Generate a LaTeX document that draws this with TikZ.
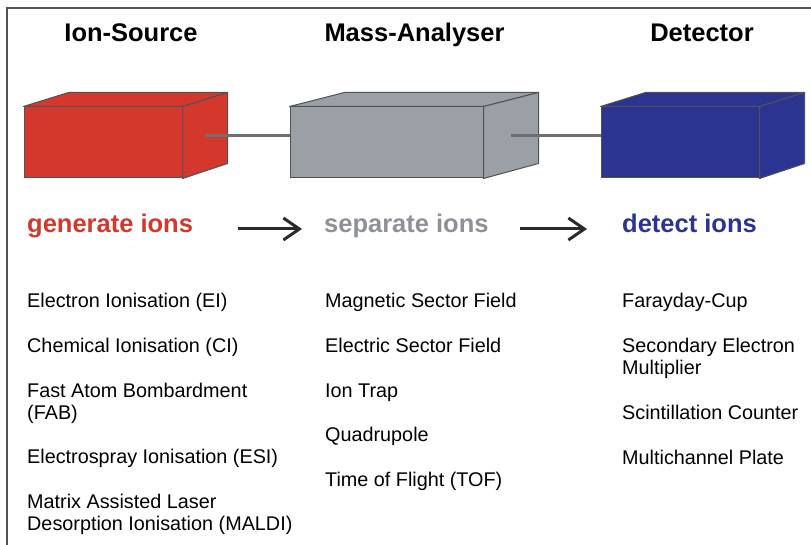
\documentclass[tikz,border=0pt]{standalone}
\usepackage{fontspec}
\setmainfont{Liberation Sans}
\usetikzlibrary{arrows.meta, positioning, calc}
\definecolor{srcred}{HTML}{D4372C}
\definecolor{anagray}{HTML}{9AA0A6}
\definecolor{detblue}{HTML}{2B3491}
\definecolor{sepgray}{HTML}{8E9297}
\definecolor{edgegray}{HTML}{505254}
\definecolor{rodgray}{HTML}{6D6F71}
\definecolor{arrowblack}{HTML}{2A2B28}
\tikzstyle{front} = [rectangle, draw=edgegray, line width=1pt, minimum height=71pt, inner sep=0pt]
\tikzstyle{face} = [draw=edgegray, line width=1pt, line join=round]
\tikzstyle{rod} = [draw=rodgray, line width=3.5pt]
\tikzstyle{title} = [font=\fontsize{25.5}{30}\selectfont\bfseries, inner sep=0pt, anchor=base]
\tikzstyle{task} = [font=\fontsize{25.5}{30}\selectfont\bfseries, inner sep=0pt, anchor=base west, text height=12pt, text depth=4pt]
\tikzstyle{item} = [font=\fontsize{19.8}{22.3}\selectfont, inner sep=0pt, anchor=base west, align=left]
\tikzstyle{arrow} = [line width=3pt, draw=arrowblack, -{Straight Barb[length=16pt, width=22pt]}]
% top and right face of a box, #1 = front node, #2 = colour, #3 = depth
\newcommand{\boxfaces}[3]{%
  \filldraw[face, fill=#2] (#1.north west) -- ++(#3,-14) -- ($(#1.north east)+(#3,-14)$) -- (#1.north east) -- cycle;
  \filldraw[face, fill=#2] (#1.north east) -- ++(#3,-14) -- ++(0,71) -- (#1.south east) -- cycle;
}

\begin{document}
\begin{tikzpicture}[x=1pt, y=-1pt]
  \useasboundingbox[fill=white] (0,0) rectangle (811,545);
  \draw[edgegray, line width=1.5pt] (7,545) -- (7,8) -- (811,8);

  % headings
  \node[title] (hsrc) at (131,42) {Ion-Source};
  \node[title] (hana) at (414.5,42) {Mass-Analyser};
  \node[title] (hdet) at (702,42) {Detector};

  % boxes
  \node[front, fill=srcred, minimum width=158pt] (src) at (103,142.5) {};
  \boxfaces{src}{srcred}{45}
  \node[front, fill=anagray, minimum width=193pt] (ana) at (386.5,142.5) {};
  \boxfaces{ana}{anagray}{55}
  \node[front, fill=detblue, minimum width=158pt] (det) at (680,142.5) {};
  \boxfaces{det}{detblue}{45}

  \coordinate (srcport) at ($(src.east)+(22.5,-7)$);
  \coordinate (anaport) at ($(ana.east)+(27.5,-7)$);
  \draw[rod] (srcport) -- (ana.west |- srcport);
  \draw[rod] (anaport) -- (det.west |- anaport);

  % tasks
  \node[task, text=srcred] (gen) at (27,233) {generate ions};
  \node[task, text=sepgray] (sep) at (324,233) {separate ions};
  \node[task, text=detblue] (dtc) at (622,233) {detect ions};
  \draw[arrow, shorten <=45pt, shorten >=22pt] (gen) -- (sep);
  \draw[arrow, shorten <=31pt, shorten >=35pt] (sep) -- (dtc);

  % methods (multi-line nodes sit on their last line)
  \node[item] (ei) at (27,308) {Electron Ionisation (EI)};
  \node[item] (ci) at (27,352.6) {Chemical Ionisation (CI)};
  \node[item] (fab) at (27,419.5) {Fast Atom Bombardment\\(FAB)};
  \node[item] (esi) at (27,463.9) {Electrospray Ionisation (ESI)};
  \node[item] (maldi) at (27,530.8) {Matrix Assisted Laser\\Desorption Ionisation (MALDI)};

  \node[item] (msf) at (325,308) {Magnetic Sector Field};
  \node[item] (esf) at (325,352.6) {Electric Sector Field};
  \node[item] (trap) at (325,397.2) {Ion Trap};
  \node[item] (quad) at (325,441.8) {Quadrupole};
  \node[item] (tof) at (325,486.4) {Time of Flight (TOF)};

  \node[item] (cup) at (622,308) {Farayday-Cup};
  \node[item] (sem) at (622,374.9) {Secondary Electron\\Multiplier};
  \node[item] (scint) at (622,419.5) {Scintillation Counter};
  \node[item] (mcp) at (622,464.1) {Multichannel Plate};
\end{tikzpicture}
\end{document}
